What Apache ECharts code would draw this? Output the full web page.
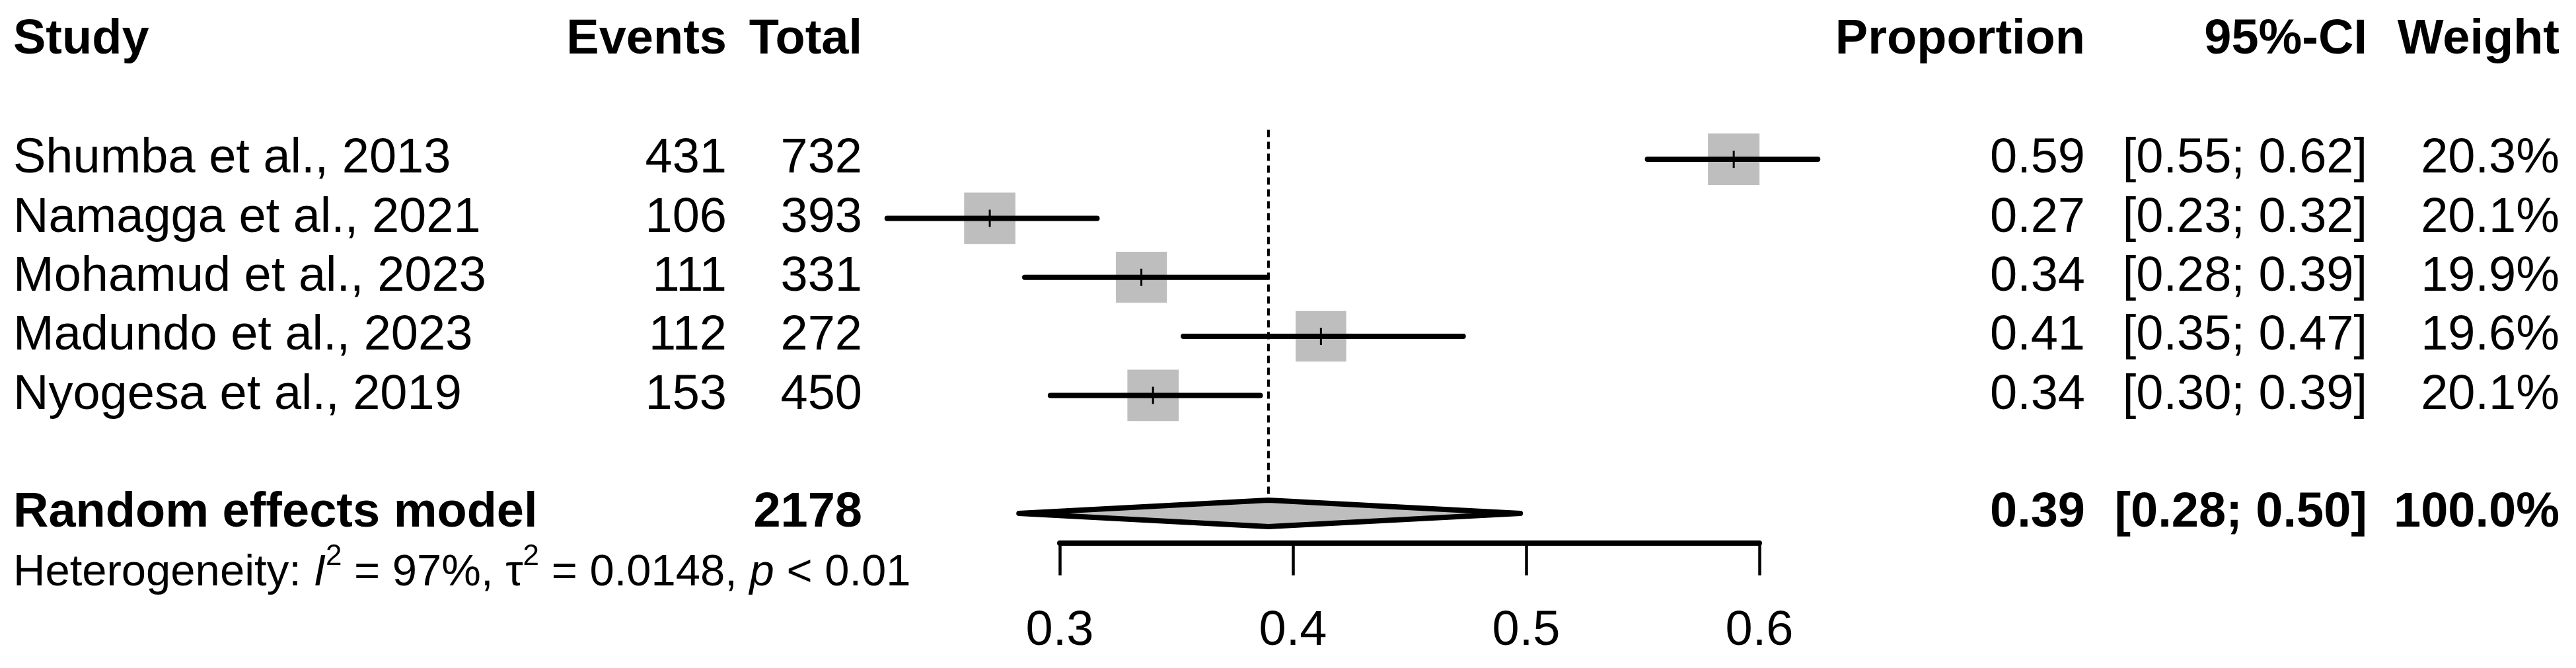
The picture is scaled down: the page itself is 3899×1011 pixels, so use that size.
<!DOCTYPE html>
<html><head><meta charset="utf-8">
<script src="https://cdn.jsdelivr.net/npm/echarts@6/dist/echarts.min.js"></script>
<style>html,body{margin:0;padding:0;background:#fff}#c{width:3899px;height:1011px}</style>
</head><body><div id="c"></div>
<script>
// ---------- data ----------
const studies = ['Shumba et al., 2013', 'Namagga et al., 2021', 'Mohamud et al., 2023', 'Madundo et al., 2023', 'Nyogesa et al., 2019'];
const events = [431, 106, 111, 112, 153];
const totals = [732, 393, 331, 272, 450];
const proportion = [0.589, 0.270, 0.335, 0.412, 0.340];
const ciLower = [0.552, 0.226, 0.285, 0.353, 0.296];
const ciUpper = [0.625, 0.316, 0.389, 0.473, 0.386];
const weights = [20.3, 20.1, 19.9, 19.6, 20.1];
const propLabels = ['0.59', '0.27', '0.34', '0.41', '0.34'];
const ciLabels = ['[0.55; 0.62]', '[0.23; 0.32]', '[0.28; 0.39]', '[0.35; 0.47]', '[0.30; 0.39]'];
const weightLabels = ['20.3%', '20.1%', '19.9%', '19.6%', '20.1%'];
const headers = ['Study', 'Events', 'Total', 'Proportion', '95%-CI', 'Weight'];
const pooledName = 'Random effects model';
const pooledTotal = 2178;
const pooledEstimate = 0.3895;
const pooledLower = 0.2825;
const pooledUpper = 0.4975;
const pooledLabels = ['0.39', '[0.28; 0.50]', '100.0%'];
const hetI2 = '97%';
const hetTau2 = '0.0148';
const hetP = '< 0.01';
const xTicks = [0.3, 0.4, 0.5, 0.6];
const xTickLabels = ['0.3', '0.4', '0.5', '0.6'];

// ---------- layout / style ----------
const FONT = "'Liberation Sans', Arial, Helvetica, sans-serif";
const FS = 74, FS_HET = 67;
const ROW_H = 89.33, TOP = 62.4;
const colX = [20, 1100, 1305, 3156, 3583, 3874];
const colAlign = ['left', 'right', 'right', 'right', 'right', 'right'];
const BOX = 78;
const maxW = Math.max(...weights);
const GRAY = '#BEBEBE';

// rows: header 0, studies 2..6, pooled 8, heterogeneity 9
const cells = [];
headers.forEach((h, c) => cells.push({ row: 0, col: c, text: h, bold: true }));
studies.forEach((s, i) => {
  const r = i + 2;
  cells.push({ row: r, col: 0, text: s });
  cells.push({ row: r, col: 1, text: String(events[i]) });
  cells.push({ row: r, col: 2, text: String(totals[i]) });
  cells.push({ row: r, col: 3, text: propLabels[i] });
  cells.push({ row: r, col: 4, text: ciLabels[i] });
  cells.push({ row: r, col: 5, text: weightLabels[i] });
});
cells.push({ row: 8, col: 0, text: pooledName, bold: true });
cells.push({ row: 8, col: 2, text: String(pooledTotal), bold: true });
cells.push({ row: 8, col: 3, text: pooledLabels[0], bold: true });
cells.push({ row: 8, col: 4, text: pooledLabels[1], bold: true });
cells.push({ row: 8, col: 5, text: pooledLabels[2], bold: true });

const chart = echarts.init(document.getElementById('c'), null, { renderer: 'canvas' });
chart.setOption({
  animation: false,
  backgroundColor: '#fff',
  grid: { left: 1604, right: 3899 - 2663, top: TOP, height: 8.5 * ROW_H },
  xAxis: {
    type: 'value', min: 0.3, max: 0.6, interval: 0.1, position: 'bottom',
    axisLine: { onZero: false, lineStyle: { color: '#000', width: 8 } },
    axisTick: { customValues: xTicks, length: 49, lineStyle: { color: '#000', width: 4.5 } },
    axisLabel: {
      customValues: xTicks, color: '#000', fontSize: FS, fontFamily: FONT,
      verticalAlign: 'middle', margin: 134,
      formatter: v => xTickLabels[xTicks.findIndex(t => Math.abs(t - v) < 1e-9)] || ''
    },
    splitLine: { show: false }
  },
  yAxis: { type: 'value', min: 0, max: 8.5, inverse: true, show: false, splitLine: { show: false } },
  series: [
    { // dashed reference line at pooled estimate
      type: 'custom', clip: false, silent: true,
      data: [[pooledEstimate, 1.5, 8]],
      renderItem: (p, api) => {
        const a = api.coord([api.value(0), api.value(1)]);
        const b = api.coord([api.value(0), api.value(2)]);
        return { type: 'line', shape: { x1: a[0], y1: a[1], x2: b[0], y2: b[1] },
          style: { stroke: '#000', lineWidth: 4, lineDash: [11, 7] } };
      }
    },
    { // study boxes and CIs
      type: 'custom', clip: false, silent: true,
      data: studies.map((s, i) => [proportion[i], ciLower[i], ciUpper[i], i + 2, weights[i]]),
      renderItem: (p, api) => {
        const row = api.value(3);
        const e = api.coord([api.value(0), row]);
        const lo = api.coord([api.value(1), row]);
        const hi = api.coord([api.value(2), row]);
        const side = BOX * Math.sqrt(api.value(4) / maxW);
        return { type: 'group', children: [
          { type: 'rect', shape: { x: e[0] - side / 2, y: e[1] - side / 2, width: side, height: side }, style: { fill: GRAY } },
          { type: 'line', shape: { x1: lo[0], y1: lo[1], x2: hi[0], y2: hi[1] }, style: { stroke: '#000', lineWidth: 8, lineCap: 'round' } },
          { type: 'line', shape: { x1: e[0], y1: e[1] - 13, x2: e[0], y2: e[1] + 13 }, style: { stroke: '#000', lineWidth: 3 } }
        ] };
      }
    },
    { // pooled diamond
      type: 'custom', clip: false, silent: true,
      data: [[pooledEstimate, pooledLower, pooledUpper, 8]],
      renderItem: (p, api) => {
        const row = api.value(3);
        const e = api.coord([api.value(0), row]);
        const lo = api.coord([api.value(1), row]);
        const hi = api.coord([api.value(2), row]);
        const h = 20;
        return { type: 'polygon', shape: { points: [[lo[0], lo[1]], [e[0], e[1] - h], [hi[0], hi[1]], [e[0], e[1] + h]] },
          style: { fill: GRAY, stroke: '#000', lineWidth: 8, lineJoin: 'round' } };
      }
    },
    { // table text
      type: 'custom', clip: false, silent: true,
      data: cells.map(c => [c.row, c.col]),
      renderItem: (p, api) => {
        const c = cells[p.dataIndex];
        const y = api.coord([0.3, c.row])[1] + (c.row === 0 ? -2 : 0);
        return { type: 'text', x: colX[c.col], y: y,
          style: { text: c.text, fill: '#000', fontSize: FS, fontFamily: FONT,
            fontWeight: c.bold ? 'bold' : 'normal', align: colAlign[c.col], verticalAlign: 'middle' } };
      }
    },
    { // heterogeneity statistics
      type: 'custom', clip: false, silent: true,
      data: [[9]],
      renderItem: (p, api) => {
        const y = api.coord([0.3, api.value(0)])[1] + 1;
        return { type: 'text', x: colX[0], y: y,
          style: {
            text: '{n|Heterogeneity: }{i|I}{s|2}{n| = ' + hetI2 + ', τ}{s|2}{n| = ' + hetTau2 + ', }{i|p}{n| ' + hetP + '}',
            align: 'left', verticalAlign: 'middle',
            rich: {
              n: { fontSize: FS_HET, lineHeight: 94, fontFamily: FONT, fill: '#000' },
              i: { fontSize: FS_HET, lineHeight: 94, fontFamily: FONT, fontStyle: 'italic', fill: '#000' },
              s: { fontSize: 44, lineHeight: 44, fontFamily: FONT, fill: '#000', verticalAlign: 'top' }
            }
          } };
      }
    }
  ]
});
</script></body></html>
